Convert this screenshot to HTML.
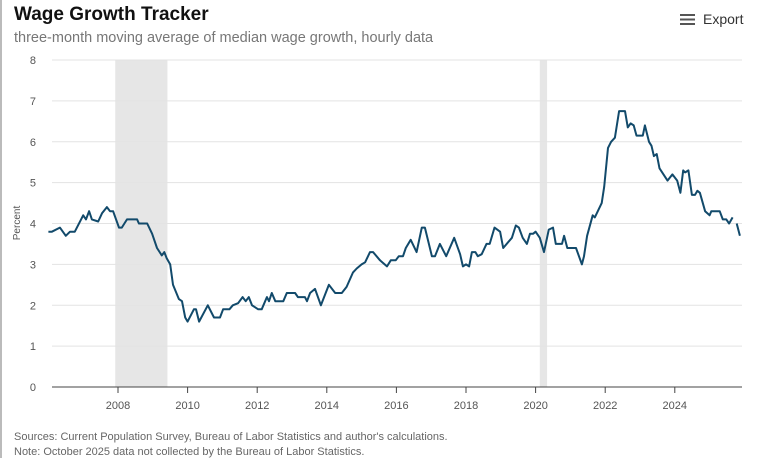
<!DOCTYPE html>
<html><head><meta charset="utf-8"><style>
body{margin:0;width:758px;height:458px;background:#fff;font-family:"Liberation Sans",sans-serif;overflow:hidden;position:relative}
#lb{position:absolute;left:0;top:0;width:2px;height:458px;background:#bbb}
.t{position:absolute;white-space:nowrap}
</style></head><body>
<div id="lb"></div>
<div class="t" style="left:14px;top:4px;font-size:19px;font-weight:bold;color:#111">Wage Growth Tracker</div>
<div class="t" style="left:14px;top:30px;font-size:14.5px;color:#777">three-month moving average of median wage growth, hourly data</div>
<div class="t" style="left:680px;top:11px;font-size:14px;color:#333"><span style="display:inline-block;width:15px;height:11px;margin-right:8px;vertical-align:-1px;background:linear-gradient(#555 0 2px,transparent 2px 4.5px,#555 4.5px 6.5px,transparent 6.5px 9px,#555 9px 11px)"></span>Export</div>
<div class="t" style="left:14px;top:431px;font-size:11px;color:#666">Sources: Current Population Survey, Bureau of Labor Statistics and author's calculations.</div>
<div class="t" style="left:14px;top:446px;font-size:11px;color:#666">Note: October 2025 data not collected by the Bureau of Labor Statistics.</div>
<svg id="c" width="758" height="458" style="position:absolute;left:0;top:0"></svg>
<script>
const years=[2006.0,2006.1,2006.33,2006.5,2006.62,2006.76,2007.0,2007.08,2007.17,2007.25,2007.43,2007.54,2007.68,2007.77,2007.86,2008.03,2008.11,2008.26,2008.55,2008.6,2008.84,2008.98,2009.12,2009.26,2009.33,2009.4,2009.5,2009.58,2009.75,2009.84,2009.93,2010.0,2010.18,2010.24,2010.33,2010.58,2010.76,2010.93,2011.02,2011.2,2011.3,2011.45,2011.58,2011.67,2011.76,2011.85,2012.03,2012.13,2012.28,2012.34,2012.42,2012.52,2012.75,2012.85,2013.09,2013.17,2013.37,2013.43,2013.52,2013.66,2013.83,2014.06,2014.24,2014.43,2014.57,2014.75,2014.86,2015.0,2015.1,2015.24,2015.33,2015.53,2015.73,2015.84,2015.98,2016.07,2016.19,2016.27,2016.41,2016.58,2016.73,2016.82,2017.02,2017.11,2017.25,2017.43,2017.66,2017.83,2017.91,2018.0,2018.09,2018.17,2018.27,2018.34,2018.45,2018.59,2018.68,2018.82,2018.98,2019.07,2019.32,2019.43,2019.52,2019.63,2019.75,2019.84,2019.93,2020.0,2020.12,2020.24,2020.38,2020.5,2020.58,2020.76,2020.82,2020.91,2021.16,2021.33,2021.39,2021.48,2021.64,2021.7,2021.9,2021.97,2022.08,2022.17,2022.28,2022.4,2022.57,2022.65,2022.73,2022.82,2022.9,2023.08,2023.14,2023.26,2023.33,2023.4,2023.48,2023.56,2023.79,2023.93,2024.07,2024.16,2024.24,2024.3,2024.39,2024.49,2024.58,2024.65,2024.72,2024.87,2025.0,2025.05,2025.29,2025.38,2025.48,2025.56,2025.66,2025.72,2025.78,2025.87];
const wages=[3.8,3.8,3.9,3.7,3.8,3.8,4.2,4.1,4.3,4.1,4.05,4.25,4.4,4.3,4.3,3.9,3.9,4.1,4.1,4.0,4.0,3.75,3.4,3.22,3.3,3.15,3.0,2.5,2.15,2.1,1.7,1.6,1.9,1.9,1.6,2.0,1.7,1.7,1.9,1.9,2.0,2.05,2.2,2.1,2.2,2.0,1.9,1.9,2.2,2.1,2.3,2.1,2.1,2.3,2.3,2.2,2.2,2.1,2.3,2.4,2.0,2.5,2.3,2.3,2.45,2.8,2.9,3.0,3.05,3.3,3.3,3.1,2.95,3.1,3.1,3.2,3.2,3.4,3.6,3.3,3.9,3.9,3.2,3.2,3.5,3.2,3.65,3.25,2.95,3.0,2.95,3.3,3.3,3.2,3.25,3.5,3.5,3.9,3.8,3.4,3.65,3.95,3.9,3.65,3.5,3.75,3.75,3.8,3.65,3.3,3.85,3.9,3.5,3.5,3.7,3.4,3.4,3.0,3.2,3.7,4.2,4.15,4.5,4.9,5.85,6.0,6.1,6.75,6.75,6.35,6.45,6.4,6.15,6.15,6.4,6.0,5.9,5.65,5.7,5.35,5.05,5.2,5.05,4.75,5.3,5.25,5.3,4.7,4.7,4.8,4.75,4.3,4.2,4.3,4.3,4.1,4.1,4.0,4.15,null,4.0,3.7];
const recessions=[[2007.92,2009.42],[2020.12,2020.33]];
const yTicks=[0,1,2,3,4,5,6,7,8];
const xTicks=[2008,2010,2012,2014,2016,2018,2020,2022,2024];
const NS="http://www.w3.org/2000/svg",svg=document.getElementById('c');
const X0=52,X1=742,Y0=387,Y1=60;
const xs=y=>48.4+(y-2006)*34.8, ys=v=>Y0-(v/8)*(Y0-Y1);
function mk(t,a,p){const e=document.createElementNS(NS,t);for(const k in a)e.setAttribute(k,a[k]);(p||svg).appendChild(e);return e;}
recessions.forEach(r=>{const e=mk('rect',{x:xs(r[0]),y:Y1,width:xs(r[1])-xs(r[0]),height:Y0-Y1,fill:'#e6e6e6'});

});
yTicks.forEach(v=>{const y=ys(v);
const g=mk('line',{x1:X0,x2:X1,y1:y,y2:y,stroke:v==0?'#444':'#e3e3e3','stroke-width':1});


const t=mk('text',{x:36,y:y+4,'text-anchor':'end','font-size':11,fill:'#555','font-family':'Liberation Sans'});t.textContent=v;

});
xTicks.forEach(v=>{const x=xs(v);
const l=mk('line',{x1:x,x2:x,y1:Y0,y2:Y0+6,stroke:'#444'});


const t=mk('text',{x:x,y:409,'text-anchor':'middle','font-size':11,fill:'#555','font-family':'Liberation Sans'});t.textContent=v;

});
const yl=mk('text',{x:0,y:0,transform:'translate(20,223) rotate(-90)','text-anchor':'middle','font-size':10,fill:'#555','font-family':'Liberation Sans'});yl.textContent='Percent';


let d='',pen=false;
years.forEach((yr,i)=>{const v=wages[i];if(v==null){pen=false;return;}d+=(pen?'L':'M')+xs(yr).toFixed(1)+' '+ys(v).toFixed(1);pen=true;});
const p=mk('path',{d:d,fill:'none',stroke:'#124a6b','stroke-width':2,'stroke-linejoin':'round'});


</script>
</body></html>
